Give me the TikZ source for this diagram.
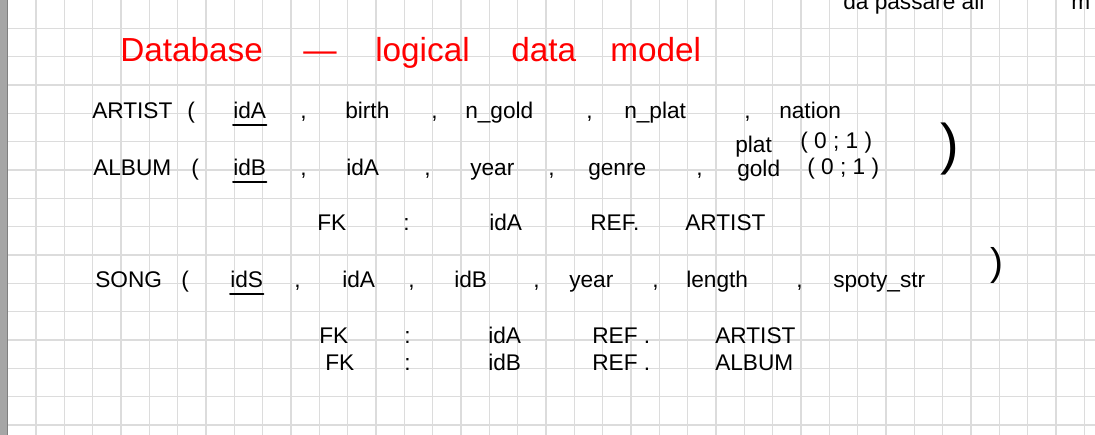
\documentclass[tikz,border=0pt]{standalone}
\usepackage{fontspec}
\setmainfont{Liberation Sans}
\usetikzlibrary{positioning}
\definecolor{gridgray}{HTML}{DCDCDC}
\definecolor{bargray}{HTML}{A6A6A6}

\begin{document}
\begin{tikzpicture}[x=0.75pt, y=-0.75pt,
    pen/.style={inner sep=0pt, anchor=base west, font=\fontsize{17}{20}\selectfont},
    title/.style={pen, red, font=\fontsize{25}{30}\selectfont},
    key/.style={line width=1.5pt, line cap=round}]
    \clip (0,0) rectangle (1095,435);
    \fill[white] (0,0) rectangle (1095,435);
    % squared paper
    \foreach \k in {-1,...,37} \draw[gridgray, line width=1pt] ({36+28.333*\k},0) -- ({36+28.333*\k},435);
    \foreach \k in {1,...,15} \draw[gridgray, line width=1pt] (0,{28.333*\k}) -- (1095,{28.333*\k});
    \fill[bargray] (0,0) rectangle (7,435);
    \draw[gray, line width=0.8pt] (7.3,0) -- (7.3,435);
    % cut off note at the top
    \node[pen] (note) at (843,10) {da passare all};
    \node[pen] (notem) at (1071,10) {m};
    % title
    \foreach \x/\t/\n in {120/Database/tdb, 303/---/tdash, 375/logical/tlog, 511/data/tdata, 610/model/tmodel}
        \node[title] (\n) at (\x,61) {\t};
    % ARTIST
    \foreach \x/\t/\n in {92/ARTIST/artist, 187/(/ao, 233/idA/akey, 300/{,}/ac1, 345/birth/birth, 431/{,}/ac2,
        465/n\_gold/ngold, 586/{,}/ac3, 624/n\_plat/nplat, 744/{,}/ac4, 779/nation/nation}
        \node[pen] (\n) at (\x,118) {\t};
    \draw[key] ([yshift=-5pt]akey.base west) -- ([yshift=-5pt]akey.base east);
    % ALBUM
    \foreach \x/\t/\n in {93/ALBUM/album, 191/(/bo, 233/idB/bkey, 300/{,}/bc1, 346/idA/bida, 424/{,}/bc2,
        470/year/byear, 548/{,}/bc3, 588/genre/genre, 696/{,}/bc4}
        \node[pen] (\n) at (\x,175) {\t};
    \draw[key] ([yshift=-5pt]bkey.base west) -- ([yshift=-5pt]bkey.base east);
    \node[pen] (plat) at (735,152) {plat};
    \node[pen] (platr) at (800,148) {( 0 ; 1 )};
    \node[pen] (gold) at (737,176) {gold};
    \node[pen] (goldr) at (807,174) {( 0 ; 1 )};
    \node[pen, font=\fontsize{42}{44}\selectfont] (bc) at (940,163) {)};
    \foreach \x/\t/\n in {317/FK/bfk, 403/:/bcol, 489/idA/bref, 590/REF./bREF, 685/ARTIST/btab}
        \node[pen] (\n) at (\x,230) {\t};
    % SONG
    \foreach \x/\t/\n in {95/SONG/song, 181/(/so, 230/idS/skey, 294/{,}/sc1, 342/idA/sida, 408/{,}/sc2,
        454/idB/sidb, 533/{,}/sc3, 569/year/syear, 652/{,}/sc4, 686/length/length, 796/{,}/sc5, 833/spoty\_str/spoty}
        \node[pen] (\n) at (\x,287) {\t};
    \draw[key] ([yshift=-5pt]skey.base west) -- ([yshift=-5pt]skey.base east);
    \node[pen, font=\fontsize{29}{31}\selectfont] (sc) at (990,275) {)};
    \foreach \x/\t/\n in {319/FK/sfka, 404/:/scola, 488/idA/srefa, 592/REF ./sREFa, 715/ARTIST/staba}
        \node[pen] (\n) at (\x,343) {\t};
    \foreach \x/\t/\n in {325/FK/sfkb, 404/:/scolb, 488/idB/srefb, 592/REF ./sREFb, 715/ALBUM/stabb}
        \node[pen] (\n) at (\x,370) {\t};
\end{tikzpicture}
\end{document}
